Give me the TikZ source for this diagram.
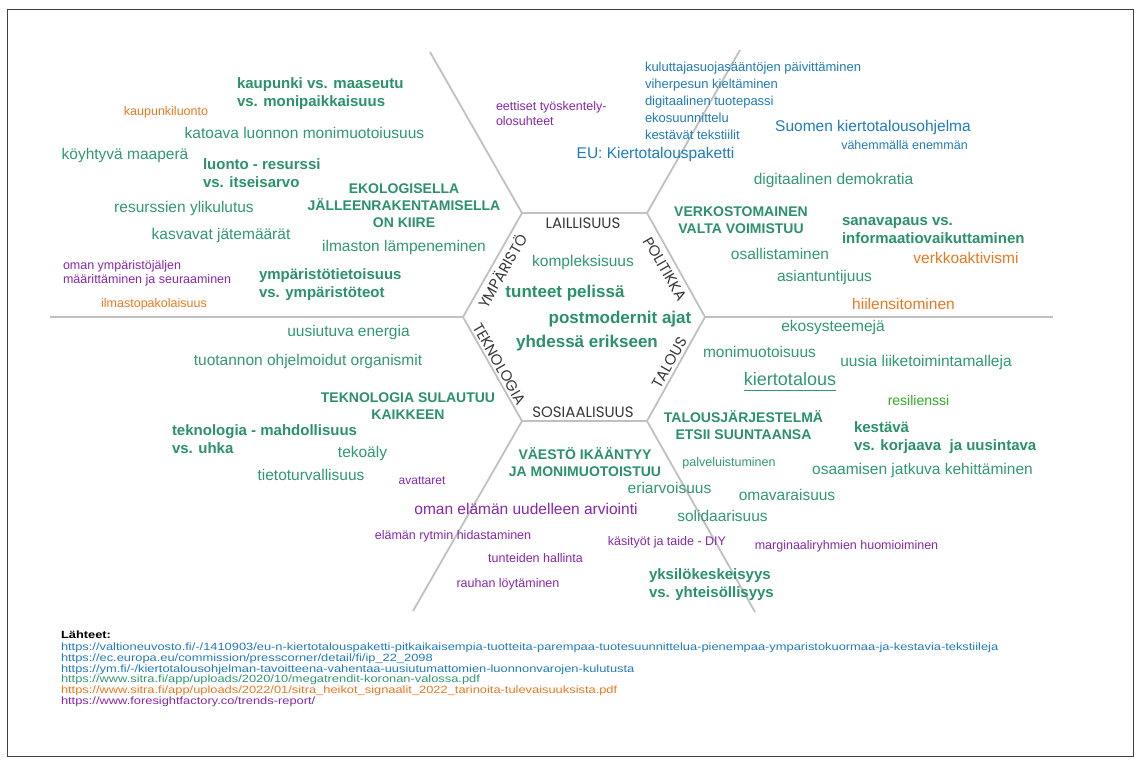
\documentclass[tikz,border=0pt]{standalone}
\usepackage{fontspec}
\setmainfont{Liberation Sans}
\newfontfamily\hexfont{Poppins}
\newfontfamily\srcfont{Liberation Sans}[FakeStretch=1.225]
\definecolor{grn}{RGB}{48,152,112}
\definecolor{grnd}{RGB}{42,145,104}
\definecolor{org}{RGB}{232,120,32}
\definecolor{pur}{RGB}{135,38,170}
\definecolor{blu}{RGB}{32,122,186}
\definecolor{lgrn}{RGB}{52,170,40}
\definecolor{spokegray}{RGB}{192,192,192}
\definecolor{hexink}{RGB}{55,55,55}
\begin{document}
\begin{tikzpicture}[x=1pt,y=-1pt,
  txtbase/.style={inner sep=0pt, outer sep=0pt},
  gtext/.style={txtbase, text=grn, font=\fontsize{15.5}{18}\selectfont},
  gsmall/.style={txtbase, text=grn, font=\fontsize{12.5}{14.5}\selectfont},
  gbold/.style={txtbase, text=grnd, font=\bfseries\fontsize{15}{18}\selectfont, align=left},
  gcaps/.style={txtbase, text=grnd, font=\bfseries\fontsize{14}{17}\selectfont, align=center},
  gcenter/.style={txtbase, text=grnd, font=\bfseries\fontsize{17}{20}\selectfont},
  ptext/.style={txtbase, text=pur, font=\fontsize{15.5}{18}\selectfont},
  psmall/.style={txtbase, text=pur, font=\fontsize{12.5}{14.5}\selectfont, align=left},
  otext/.style={txtbase, text=org, font=\fontsize{15.5}{18}\selectfont},
  osmall/.style={txtbase, text=org, font=\fontsize{12.5}{14.5}\selectfont},
  btext/.style={txtbase, text=blu, font=\fontsize{15.5}{18}\selectfont},
  bsmall/.style={txtbase, text=blu, font=\fontsize{13}{17}\selectfont, align=left},
  hexlab/.style={txtbase, text=hexink, font=\hexfont\fontsize{15}{17}\selectfont},
  srcline/.style={txtbase, anchor=mid west, font=\srcfont\fontsize{10.5}{11}\selectfont},
  spoke/.style={draw=spokegray, line width=1.8pt}
]
\useasboundingbox (0,0) rectangle (1140,763);
\draw[line width=0.9pt, black!75] (7,9) rectangle (1133,756);

% hexagon corners and spoke ends
\coordinate (hL) at (463,317);
\coordinate (hTL) at (522,213);
\coordinate (hTR) at (647,213);
\coordinate (hR) at (705,317);
\coordinate (hBR) at (647,421);
\coordinate (hBL) at (522,421);
\coordinate (eL) at (50,317);
\coordinate (eTL) at (430,52);
\coordinate (eTR) at (740,50);
\coordinate (eR) at (1053,317);
\coordinate (eBR) at (755,612);
\coordinate (eBL) at (413,611);

\draw[spoke, line join=round] (hL) -- (hTL) -- (hTR) -- (hR) -- (hBR) -- (hBL) -- cycle;
\draw[spoke] (hL) -- (eL);
\draw[spoke] (hTL) -- (eTL);
\draw[spoke] (hTR) -- (eTR);
\draw[spoke] (hR) -- (eR);
\draw[spoke] (hBR) -- (eBR);
\draw[spoke] (hBL) -- (eBL);

% hexagon side labels
\node[hexlab] (lLai) at (583,223) {LAILLISUUS};
\node[hexlab, rotate=-60] (lPol) at (665,269) {POLITIKKA};
\node[hexlab, rotate=60] (lTal) at (669.5,362.5) {TALOUS};
\node[hexlab] (lSos) at (583,412) {SOSIAALISUUS};
\node[hexlab, rotate=-60] (lTek) at (499.5,364) {TEKNOLOGIA};
\node[hexlab, rotate=60] (lYmp) at (502,271) {YMPÄRISTÖ};

% centre
\node[gtext, anchor=mid] (c1) at (583,264) {kompleksisuus};
\node[gcenter, anchor=mid] (c2) at (565,295) {tunteet pelissä};
\node[gcenter, anchor=mid] (c3) at (620,321) {postmodernit ajat};
\node[gcenter, anchor=mid] (c4) at (587,345) {yhdessä erikseen};

% environment sector
\node[gbold, anchor=west] (n1) at (237,94) {kaupunki vs. maaseutu\\vs. monipaikkaisuus};
\node[osmall, anchor=mid] (n2) at (166,113) {kaupunkiluonto};
\node[gtext, anchor=mid] (n3) at (304.5,136) {katoava luonnon monimuotoiusuus};
\node[gtext, anchor=mid] (n4) at (125,157) {köyhtyvä maaperä};
\node[gbold, anchor=west] (n5) at (203,173.5) {luonto - resurssi\\vs. itseisarvo};
\node[gcaps] (n6) at (404,205.5) {EKOLOGISELLA\\JÄLLEENRAKENTAMISELLA\\ON KIIRE};
\node[gtext, anchor=mid] (n7) at (184,210) {resurssien ylikulutus};
\node[gtext, anchor=mid] (n8) at (221,237) {kasvavat jätemäärät};
\node[gtext, anchor=mid] (n9) at (404,249) {ilmaston lämpeneminen};
\node[psmall, anchor=west, font=\fontsize{12.5}{14}\selectfont] (n10) at (63,273.5) {oman ympäristöjäljen\\määrittäminen ja seuraaminen};
\node[gbold, anchor=west] (n11) at (259,284.5) {ympäristötietoisuus\\vs. ympäristöteot};
\node[osmall, anchor=mid] (n12) at (154,305) {ilmastopakolaisuus};

% legal sector
\node[psmall, anchor=west, font=\fontsize{12.5}{15}\selectfont] (n13) at (496,114) {eettiset työskentely-\\olosuhteet};
\node[bsmall, anchor=west] (n14) at (645,100.5) {kuluttajasuojasääntöjen päivittäminen\\viherpesun kieltäminen\\digitaalinen tuotepassi\\ekosuunnittelu\\kestävät tekstiilit};
\node[btext, anchor=mid] (n15) at (655.5,156) {EU: Kiertotalouspaketti};
\node[btext, anchor=mid] (n16) at (873,129) {Suomen kiertotalousohjelma};
\node[txtbase, text=blu, font=\fontsize{12.5}{14}\selectfont, anchor=mid] (n17) at (904.5,147) {vähemmällä enemmän};

% politics sector
\node[gtext, anchor=mid] (n18) at (833.5,182) {digitaalinen demokratia};
\node[gcaps] (n19) at (741,220.5) {VERKOSTOMAINEN\\VALTA VOIMISTUU};
\node[gbold, anchor=west] (n20) at (842,231) {sanavapaus vs.\\informaatiovaikuttaminen};
\node[gtext, anchor=mid] (n21) at (780,257) {osallistaminen};
\node[otext, anchor=mid] (n22) at (966,261) {verkkoaktivismi};
\node[gtext, anchor=mid] (n23) at (824.5,279) {asiantuntijuus};
\node[otext, anchor=mid] (n24) at (903.5,307) {hiilensitominen};

% economy sector
\node[gtext, anchor=mid] (n25) at (833,329) {ekosysteemejä};
\node[gtext, anchor=mid] (n26) at (759.5,355) {monimuotoisuus};
\node[gtext, anchor=mid] (n27) at (926,364) {uusia liiketoimintamalleja};
\node[txtbase, text=grn, font=\fontsize{18}{20}\selectfont, anchor=mid] (n28) at (790,383) {kiertotalous};
\draw[grn, line width=1.3pt] ([yshift=-5pt]n28.base west) -- ([yshift=-5pt]n28.base east);
\node[txtbase, text=lgrn, font=\fontsize{14}{16}\selectfont, anchor=mid] (n29) at (918.5,403) {resilienssi};
\node[gcaps] (n30) at (743.5,425) {TALOUSJÄRJESTELMÄ\\ETSII SUUNTAANSA};
\node[gbold, anchor=west] (n31) at (854,437.5) {kestävä\\vs. korjaava\ \ ja uusintava};
\node[gsmall, anchor=mid] (n32) at (729,464) {palveluistuminen};
\node[gtext, anchor=mid] (n33) at (922.5,472) {osaamisen jatkuva kehittäminen};

% social sector
\node[gtext, anchor=mid] (n34) at (669.5,491) {eriarvoisuus};
\node[gtext, anchor=mid] (n35) at (787,498) {omavaraisuus};
\node[gtext, anchor=mid] (n36) at (722.5,519) {solidaarisuus};
\node[psmall, anchor=mid] (n37) at (667,543) {käsityöt ja taide - DIY};
\node[psmall, anchor=mid] (n38) at (846.5,547) {marginaaliryhmien huomioiminen};
\node[gbold, anchor=west] (n39) at (649,584.5) {yksilökeskeisyys\\vs. yhteisöllisyys};
\node[gcaps] (n40) at (585,462) {VÄESTÖ IKÄÄNTYY\\JA MONIMUOTOISTUU};
\node[psmall, anchor=mid, font=\fontsize{12}{14}\selectfont] (n41) at (422,482) {avattaret};
\node[ptext, anchor=mid] (n42) at (526,512) {oman elämän uudelleen arviointi};
\node[psmall, anchor=mid] (n43) at (453,537) {elämän rytmin hidastaminen};
\node[psmall, anchor=mid] (n44) at (535.5,560) {tunteiden hallinta};
\node[psmall, anchor=mid] (n45) at (508,585) {rauhan löytäminen};

% technology sector
\node[gtext, anchor=mid] (n46) at (348.5,334) {uusiutuva energia};
\node[gtext, anchor=mid] (n47) at (308,363) {tuotannon ohjelmoidut organismit};
\node[gcaps] (n48) at (408,406) {TEKNOLOGIA SULAUTUU\\KAIKKEEN};
\node[gbold, anchor=west] (n49) at (172,439.5) {teknologia - mahdollisuus\\vs. uhka};
\node[gtext, anchor=mid] (n50) at (362.5,455) {tekoäly};
\node[gtext, anchor=mid] (n51) at (311,478) {tietoturvallisuus};

% sources
\node[srcline, font=\srcfont\bfseries\fontsize{10.5}{11}\selectfont] (s0) at (61,636) {Lähteet:};
\node[srcline, text=blu] (s1) at (61,648) {https://valtioneuvosto.fi/-/1410903/eu-n-kiertotalouspaketti-pitkaikaisempia-tuotteita-parempaa-tuotesuunnittelua-pienempaa-ymparistokuormaa-ja-kestavia-tekstiileja};
\node[srcline, text=blu] (s2) at (61,658.5) {https://ec.europa.eu/commission/presscorner/detail/fi/ip\_22\_2098};
\node[srcline, text=blu] (s3) at (61,669.5) {https://ym.fi/-/kiertotalousohjelman-tavoitteena-vahentaa-uusiutumattomien-luonnonvarojen-kulutusta};
\node[srcline, text=grn] (s4) at (61,680) {https://www.sitra.fi/app/uploads/2020/10/megatrendit-koronan-valossa.pdf};
\node[srcline, text=org] (s5) at (61,691) {https://www.sitra.fi/app/uploads/2022/01/sitra\_heikot\_signaalit\_2022\_tarinoita-tulevaisuuksista.pdf};
\node[srcline, text=pur] (s6) at (61,701.5) {https://www.foresightfactory.co/trends-report/};
\end{tikzpicture}
\end{document}
